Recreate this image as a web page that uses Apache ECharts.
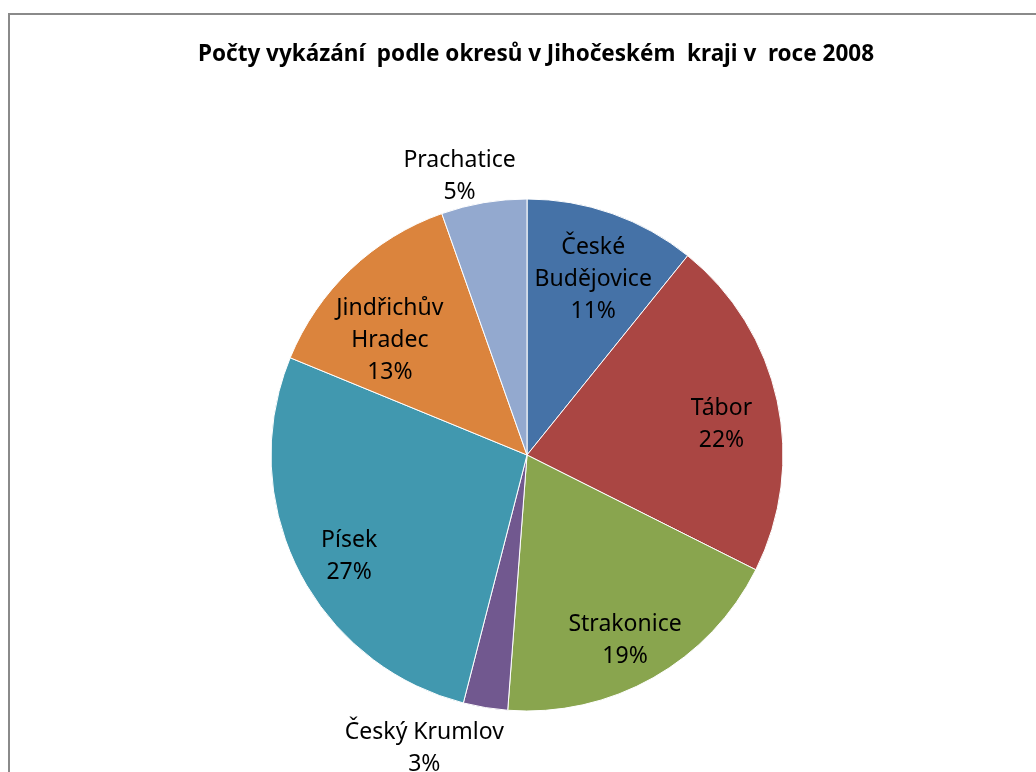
<!DOCTYPE html>
<html>
<head>
<meta charset="utf-8">
<script src="https://cdn.jsdelivr.net/npm/echarts@6/dist/echarts.min.js"></script>
<style>
  html, body { margin: 0; padding: 0; background: #fff; }
  #chart { width: 1036px; height: 772px; }
</style>
</head>
<body>
<div id="chart"></div>
<script>
// okresy (clockwise from 12 o'clock) and their share in %
const districts = ['České\nBudějovice', 'Tábor', 'Strakonice', 'Český Krumlov', 'Písek', 'Jindřichův\nHradec', 'Prachatice'];
const shares = [10.8, 21.6, 18.8, 2.8, 27.2, 13.4, 5.4];
const colors = ['#4572A7', '#AA4643', '#89A54E', '#71588F', '#4198AF', '#DB843D', '#93A9CF'];
// which labels Excel put outside the pie
const outside = [false, false, false, true, false, false, true];

const chart = echarts.init(document.getElementById('chart'), null, { renderer: 'canvas' });

const labelFont = {
  fontFamily: 'Noto Sans',
  fontSize: 23,
  lineHeight: 32,
  color: '#000'
};

// Excel's "best fit" moved a few labels away from the plain radial spot
const labelNudge = {
  'Český Krumlov': [-55, 4],
  'Jindřichův\nHradec': [0, 30],
  'Prachatice': [-18, 10]
};

const pieData = districts.map((name, i) => ({
  name: name,
  value: shares[i],
  itemStyle: { color: colors[i] }
}));

// transparent copies of the pie only carry the labels
const labelData = (wantOutside) => districts.map((name, i) => ({
  name: name,
  value: shares[i],
  label: {
    show: outside[i] === wantOutside,
    offset: labelNudge[name] || [0, 12]
  }
}));

const center = [527, 455];

const option = {
  backgroundColor: '#fff',
  animation: false,
  title: {
    text: 'Počty vykázání  podle okresů v Jihočeském  kraji v  roce 2008',
    left: 531,
    textAlign: 'center',
    top: 38,
    textStyle: {
      fontFamily: 'Noto Sans',
      fontSize: 22.5,
      fontWeight: 'bold',
      color: '#000'
    }
  },
  graphic: [
    {
      type: 'rect',
      shape: { x: 9, y: 14, width: 1100, height: 900 },
      style: { fill: 'none', stroke: '#8a8a8a', lineWidth: 2 },
      silent: true
    }
  ],
  series: [
    {
      type: 'pie',
      center: center,
      radius: [0, 256],
      startAngle: 90,
      clockwise: true,
      silent: true,
      label: { show: false },
      labelLine: { show: false },
      itemStyle: { borderColor: '#fff', borderWidth: 1 },
      data: pieData
    },
    {
      type: 'pie',
      center: center,
      radius: [136, 256],
      startAngle: 90,
      silent: true,
      percentPrecision: 0,
      itemStyle: { color: 'rgba(0,0,0,0)' },
      label: Object.assign({ position: 'inside', formatter: '{b}\n{d}%' }, labelFont),
      labelLine: { show: false },
      data: labelData(false)
    },
    {
      type: 'pie',
      center: center,
      radius: [250, 330],
      startAngle: 90,
      silent: true,
      percentPrecision: 0,
      itemStyle: { color: 'rgba(0,0,0,0)' },
      label: Object.assign({ position: 'inside', formatter: '{b}\n{d}%' }, labelFont),
      labelLine: { show: false },
      data: labelData(true)
    }
  ]
};

chart.setOption(option);
</script>
</body>
</html>
